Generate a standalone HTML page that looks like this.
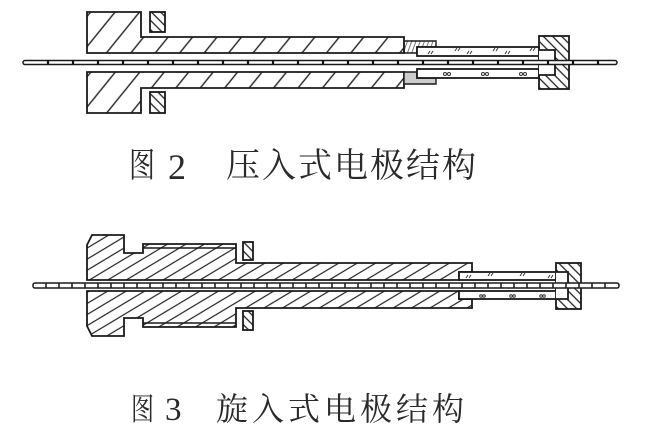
<!DOCTYPE html>
<html><head><meta charset="utf-8"><style>
html,body{margin:0;padding:0;background:#fff;}
svg{display:block;}
.t{font-family:"Liberation Serif","Noto Serif CJK SC",serif;fill:#2a2a2a;}
</style></head><body>
<svg width="657" height="443" viewBox="0 0 657 443" xmlns="http://www.w3.org/2000/svg">
<defs>
<pattern id="h2" patternUnits="userSpaceOnUse" width="19" height="19" patternTransform="rotate(39)">
<line x1="2" y1="0" x2="2" y2="19" stroke="#222" stroke-width="1.4"/></pattern>
<pattern id="h3" patternUnits="userSpaceOnUse" width="9.5" height="10" patternTransform="rotate(59)">
<line x1="1" y1="0" x2="1" y2="10" stroke="#222" stroke-width="1.2"/></pattern>
<pattern id="hb" patternUnits="userSpaceOnUse" width="6.5" height="10" patternTransform="rotate(-45)">
<line x1="1" y1="0" x2="1" y2="10" stroke="#222" stroke-width="1.3"/></pattern>
<pattern id="hs" patternUnits="userSpaceOnUse" width="4" height="10" patternTransform="rotate(20)">
<line x1="1" y1="0" x2="1" y2="10" stroke="#555" stroke-width="0.8"/></pattern>
</defs>
<g stroke="#1a1a1a" stroke-width="1.8" fill="none" stroke-linejoin="miter">
<!-- ===== Figure 2 ===== -->
<path d="M87,12 H141 V37 H404 V53 H87 Z" fill="url(#h2)"/>
<path d="M87,113 H141 V88 H404 V72 H87 Z" fill="url(#h2)"/>
<path d="M404,41 H436 V47 H417 V53 H404 Z" fill="url(#hs)" stroke-width="1.4"/>
<path d="M404,84 H436 V78 H417 V72 H404 Z" fill="#ccc" stroke-width="1.4"/>
<rect x="417" y="47" width="122" height="9" fill="#fff"/>
<rect x="417" y="69" width="122" height="9" fill="#fff"/>
<rect x="539" y="36" width="30" height="53" fill="url(#hb)"/>
<path d="M539,50 H555 V75 H539" fill="#fff"/>
<rect x="150" y="12" width="15" height="20" fill="url(#hb)"/>
<rect x="150" y="92" width="15" height="21" fill="url(#hb)"/>
<rect x="23" y="60.5" width="594" height="4" rx="2" fill="#fff" stroke-width="1.5"/>
<!-- ===== Figure 3 ===== -->
<path d="M87,245 L92,235 H124 V253 H143 V244 H236 V263 H472 V272 H459 V280 H87 Z" fill="url(#h3)"/>
<path d="M87,326 L92,336 H124 V318 H143 V327 H236 V308 H472 V299 H459 V291 H87 Z" fill="url(#h3)"/>
<line x1="143" y1="248" x2="236" y2="248" stroke-width="1.4"/>
<line x1="143" y1="323" x2="236" y2="323" stroke-width="1.4"/>
<rect x="459" y="272" width="98" height="8" fill="#fff"/>
<rect x="459" y="291" width="98" height="8" fill="#fff"/>
<rect x="556" y="263" width="25" height="46" fill="url(#hb)"/>
<path d="M556,272 H568 V299 H556" fill="#fff"/>
<rect x="243" y="242" width="10" height="18" fill="url(#hb)"/>
<rect x="243" y="311" width="10" height="19" fill="url(#hb)"/>
<rect x="33" y="283" width="586" height="5" rx="2" fill="#fff" stroke-width="1.5"/>
</g>
<!-- rod ticks -->
<g stroke="#111" stroke-width="2.2">
<path d="M48,60.5v4 M73,60.5v4 M98,60.5v4 M123,60.5v4 M148,60.5v4 M173,60.5v4 M198,60.5v4 M223,60.5v4 M248,60.5v4 M273,60.5v4 M298,60.5v4 M323,60.5v4 M348,60.5v4 M373,60.5v4 M398,60.5v4 M423,60.5v4 M448,60.5v4 M473,60.5v4 M498,60.5v4 M523,60.5v4 M548,60.5v4 M573,60.5v4 M598,60.5v4"/>
</g>
<g stroke="#222" stroke-width="1.6">
<path d="M46,283v5 M59,283v5 M72,283v5 M85,283v5 M98,283v5 M111,283v5 M124,283v5 M137,283v5 M150,283v5 M163,283v5 M176,283v5 M189,283v5 M202,283v5 M215,283v5 M228,283v5 M241,283v5 M254,283v5 M267,283v5 M280,283v5 M293,283v5 M306,283v5 M319,283v5 M332,283v5 M345,283v5 M358,283v5 M371,283v5 M384,283v5 M397,283v5 M410,283v5 M423,283v5 M436,283v5 M449,283v5 M462,283v5 M475,283v5 M488,283v5 M501,283v5 M514,283v5 M527,283v5 M540,283v5 M553,283v5 M566,283v5 M579,283v5 M592,283v5 M605,283v5"/>
</g>
<!-- tube filler marks -->
<g stroke="#333" stroke-width="1" fill="none">
<path d="M428,54l2,-3 M431,54l2,-3 M455,51l2,-3 M458,51l2,-3 M467,54l2,-3 M470,54l2,-3 M493,51l2,-3 M496,51l2,-3 M505,54l2,-3 M508,54l2,-3 M530,51l2,-3 M533,51l2,-3"/>
<circle cx="445" cy="74" r="1.5"/><circle cx="449" cy="74" r="1.5"/>
<circle cx="483" cy="74" r="1.5"/><circle cx="487" cy="74" r="1.5"/>
<circle cx="521" cy="74" r="1.5"/><circle cx="525" cy="74" r="1.5"/>
<path d="M466,278l2,-3 M469,278l2,-3 M488,276l2,-3 M491,276l2,-3 M520,276l2,-3 M523,276l2,-3 M548,278l2,-3 M551,278l2,-3"/>
<circle cx="481" cy="296" r="1.3"/><circle cx="484" cy="296" r="1.3"/>
<circle cx="511" cy="296" r="1.3"/><circle cx="514" cy="296" r="1.3"/>
<circle cx="541" cy="296" r="1.3"/><circle cx="544" cy="296" r="1.3"/>
</g>
<!-- captions -->
<text class="t" x="129" y="177" font-size="34" textLength="26" lengthAdjust="spacingAndGlyphs">图</text>
<text class="t" x="168" y="179" font-size="36">2</text>
<text class="t" font-size="34" y="177" x="226 262 298 334 370 406 442">压入式电极结构</text>
<text class="t" x="131" y="420" font-size="31" textLength="23" lengthAdjust="spacingAndGlyphs">图</text>
<text class="t" x="165" y="420" font-size="33">3</text>
<text class="t" font-size="32" y="420" x="216 252 288 324 360 396 432">旋入式电极结构</text>
</svg>
</body></html>
